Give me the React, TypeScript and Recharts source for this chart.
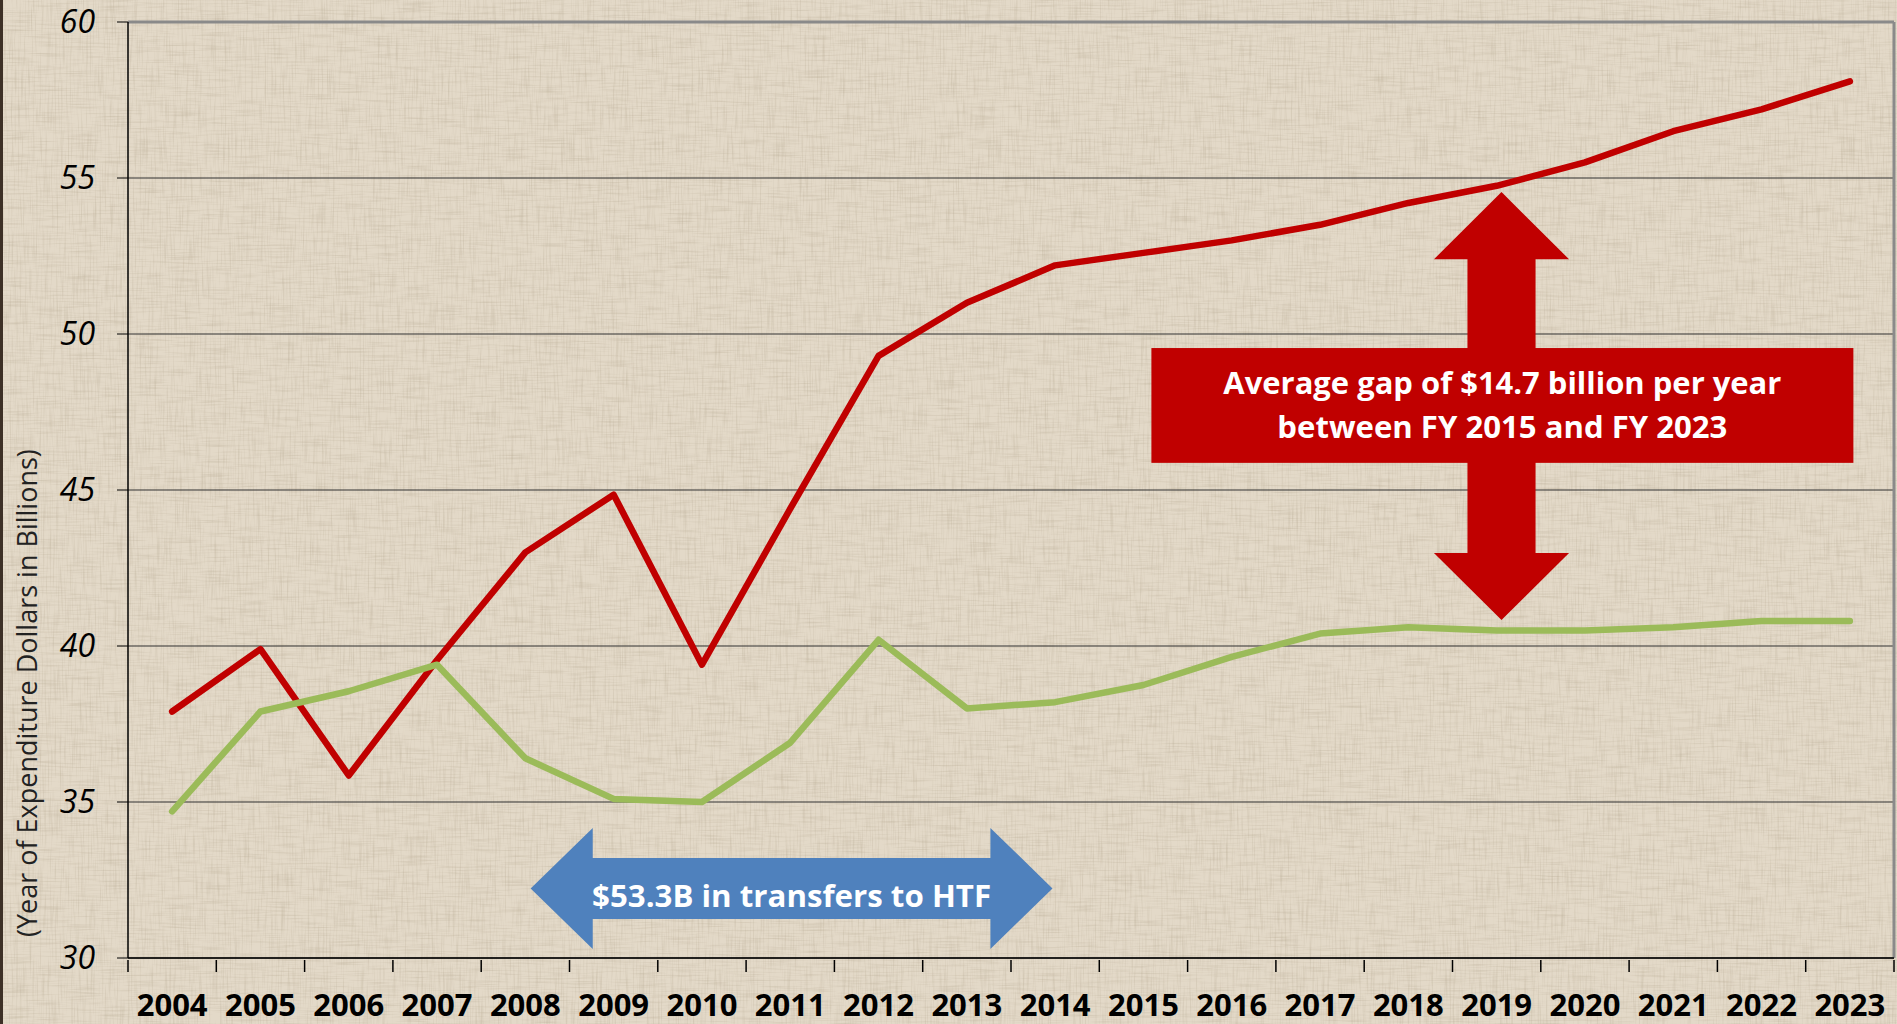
import { CartesianGrid, Line, LineChart, ReferenceArea, ReferenceLine, XAxis, YAxis } from "recharts";

const years = [2004, 2005, 2006, 2007, 2008, 2009, 2010, 2011, 2012, 2013, 2014, 2015, 2016, 2017, 2018, 2019, 2020, 2021, 2022, 2023];
const outlays = [37.9, 39.9, 35.85, 39.55, 43.0, 44.85, 39.4, 44.4, 49.3, 51.0, 52.2, 52.6, 53.0, 53.5, 54.2, 54.75, 55.5, 56.5, 57.2, 58.1];
const receipts = [34.7, 37.9, 38.55, 39.4, 36.4, 35.1, 35.0, 36.9, 40.2, 38.0, 38.2, 38.75, 39.65, 40.4, 40.6, 40.5, 40.5, 40.6, 40.8, 40.8];
const yTicks = [30, 35, 40, 45, 50, 55, 60];
// category labels at whole years, tick marks on the band edges between them
const xTicks = [2003.5, ...years.flatMap((y) => [y, y + 0.5])];

const FONT = "'Open Sans', 'DejaVu Sans', sans-serif";
const RED = "#c00000";
const GREEN = "#9bbb59";
const BLUE = "#4f81bd";

const data = years.map((year, i) => ({ year, outlays: outlays[i], receipts: receipts[i] }));

function YearTick({ x, y, payload }: any) {
  if (!Number.isInteger(payload.value)) {
    return <line x1={x} x2={x} y1={y} y2={y + 12} stroke="#000" strokeWidth={1.5} />;
  }
  return (
    <text x={x} y={y + 56} textAnchor="middle" fontFamily={FONT} fontWeight={700} fontSize={31} fill="#000">
      {payload.value}
    </text>
  );
}

function AxisTitle({ viewBox }: any) {
  const cy = viewBox.y + viewBox.height * 0.717;
  return (
    <text x={37} y={cy} transform={`rotate(-90 37 ${cy})`} textAnchor="middle" fontFamily={FONT} fontSize={27} fill="#222">
      (Year of Expenditure Dollars in Billions)
    </text>
  );
}

// vertical double-headed arrow filling the area box
function GapArrow({ x, y, width, height }: any) {
  const head = height * 0.157;
  const s1 = x + width * 0.248;
  const s2 = x + width * 0.752;
  const cx = x + width / 2;
  const pts = [
    [cx, y], [x + width, y + head], [s2, y + head], [s2, y + height - head], [x + width, y + height - head],
    [cx, y + height], [x, y + height - head], [s1, y + height - head], [s1, y + head], [x, y + head],
  ];
  return <polygon points={pts.map((p) => p.join(",")).join(" ")} fill={RED} />;
}

function GapBox({ x, y, width, height }: any) {
  const cx = x + width / 2;
  const cy = y + height / 2;
  return (
    <g>
      <rect x={x} y={y} width={width} height={height} fill={RED} />
      <text x={cx} y={cy - 11} textAnchor="middle" fontFamily={FONT} fontWeight={700} fontSize={30} fill="#fff" textLength={558} lengthAdjust="spacingAndGlyphs">
        Average gap of $14.7 billion per year
      </text>
      <text x={cx} y={cy + 33} textAnchor="middle" fontFamily={FONT} fontWeight={700} fontSize={30} fill="#fff" textLength={450} lengthAdjust="spacingAndGlyphs">
        between FY 2015 and FY 2023
      </text>
    </g>
  );
}

// horizontal double-headed arrow with the transfers label
function TransferArrow({ x, y, width, height }: any) {
  const head = width * 0.119;
  const t1 = y + height * 0.248;
  const t2 = y + height * 0.752;
  const cy = y + height / 2;
  const pts = [
    [x, cy], [x + head, y], [x + head, t1], [x + width - head, t1], [x + width - head, y],
    [x + width, cy], [x + width - head, y + height], [x + width - head, t2], [x + head, t2], [x + head, y + height],
  ];
  return (
    <g>
      <polygon points={pts.map((p) => p.join(",")).join(" ")} fill={BLUE} />
      <text x={x + width / 2} y={cy + 19} textAnchor="middle" fontFamily={FONT} fontWeight={700} fontSize={31} fill="#fff" textLength={399} lengthAdjust="spacingAndGlyphs">
        $53.3B in transfers to HTF
      </text>
    </g>
  );
}

export default function App() {
  return (
    <div style={{ position: "absolute", left: 0, top: 0, width: 1897, height: 1024, overflow: "hidden" }}>
      <svg width={1897} height={1024} style={{ position: "absolute", left: 0, top: 0 }}>
        <defs>
          <filter id="warp" x="0" y="0" width="100%" height="100%">
            <feTurbulence type="fractalNoise" baseFrequency="0.6 0.03" numOctaves={2} seed={4} />
            <feColorMatrix type="matrix" values="0 0 0 0 0.45  0 0 0 0 0.38  0 0 0 0 0.27  0 0 0 1.6 -0.75" />
          </filter>
          <filter id="weft" x="0" y="0" width="100%" height="100%">
            <feTurbulence type="fractalNoise" baseFrequency="0.03 0.6" numOctaves={2} seed={9} />
            <feColorMatrix type="matrix" values="0 0 0 0 0.45  0 0 0 0 0.38  0 0 0 0 0.27  0 0 0 1.6 -0.75" />
          </filter>
        </defs>
        <rect width={1897} height={1024} fill="#e3d9c8" />
        <rect width={1897} height={1024} filter="url(#warp)" opacity={0.45} />
        <rect width={1897} height={1024} filter="url(#weft)" opacity={0.45} />
        <rect x={0} y={0} width={3} height={1024} fill="#3d3026" />
      </svg>
      <div style={{ position: "absolute", left: 0, top: 0 }}>
        <LineChart width={1897} height={1024} data={data} margin={{ top: 22, right: 3, bottom: 0, left: 0 }}>
          <CartesianGrid vertical={false} stroke="#333" strokeWidth={1.2} />
          <XAxis
            dataKey="year"
            type="number"
            domain={[2003.5, 2023.5]}
            allowDataOverflow
            ticks={xTicks}
            interval={0}
            tickLine={false}
            tickSize={0}
            axisLine={{ stroke: "#000", strokeWidth: 1.5 }}
            tick={<YearTick />}
            height={66}
          />
          <YAxis
            type="number"
            domain={[30, 60]}
            ticks={yTicks}
            interval={0}
            width={128}
            tickSize={11}
            tickMargin={22}
            axisLine={{ stroke: "#000", strokeWidth: 1.5 }}
            tickLine={{ stroke: "#000", strokeWidth: 1 }}
            tick={{ fill: "#000", fontSize: 32, fontStyle: "italic", fontFamily: FONT }}
            label={<AxisTitle />}
          />
          <ReferenceLine y={60} stroke="#8a8a8a" strokeWidth={3} />
          <ReferenceLine x={2023.5} stroke="#8a8a8a" strokeWidth={3} />
          <ReferenceArea x1={2008.06} x2={2013.97} y1={30.29} y2={34.17} shape={(p: any) => <TransferArrow {...p} />} />
          <Line dataKey="outlays" stroke={RED} strokeWidth={6.5} dot={false} type="linear" strokeLinecap="round" strokeLinejoin="round" isAnimationActive={false} />
          <Line dataKey="receipts" stroke={GREEN} strokeWidth={6.5} dot={false} type="linear" strokeLinecap="round" strokeLinejoin="round" isAnimationActive={false} />
          <ReferenceArea x1={2018.29} x2={2019.82} y1={40.83} y2={54.55} shape={(p: any) => <GapArrow {...p} />} />
          <ReferenceArea x1={2015.09} x2={2023.04} y1={45.87} y2={49.55} shape={(p: any) => <GapBox {...p} />} />
        </LineChart>
      </div>
    </div>
  );
}
